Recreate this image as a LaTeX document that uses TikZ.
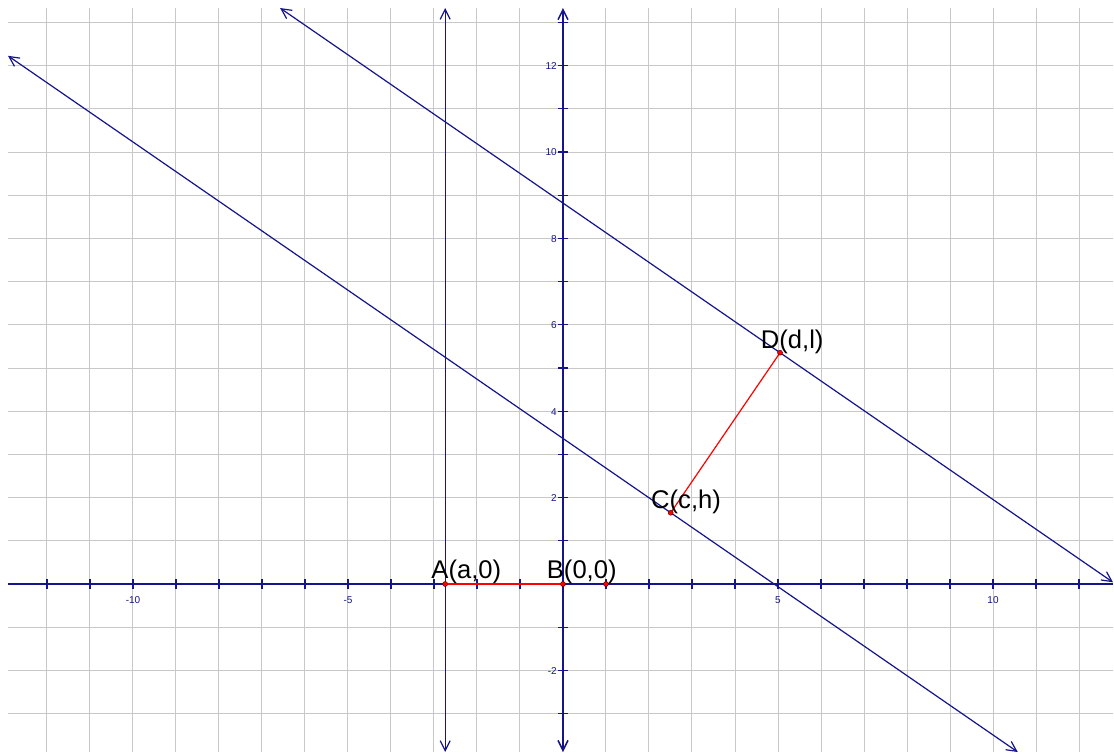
\documentclass[tikz,border=0pt]{standalone}
\usepackage{fontspec}
\setmainfont{Liberation Sans}
\usetikzlibrary{arrows.meta}
\definecolor{navy}{RGB}{20,20,140}
\definecolor{gridgray}{RGB}{200,200,200}
\begin{document}
\begin{tikzpicture}[x=43pt,y=43.2pt,
  gridline/.style={gridgray,line width=1pt},
  axis/.style={navy,line width=1.5pt},
  bothtips/.style={{Straight Barb[length=10pt,width=10pt]}-{Straight Barb[length=10pt,width=10pt]}},
  geoline/.style={navy,line width=1.2pt,bothtips},
  tick/.style={navy,line width=1.2pt},
  seg/.style={red,line width=1.2pt},
  pt/.style={circle,fill=red,draw=black!60!red,line width=0.5pt,inner sep=0pt,minimum size=5pt},
  ptlabel/.style={font=\fontsize{25.6}{28}\selectfont,inner sep=0pt,anchor=base west},
  ticklabel/.style={font=\fontsize{10}{12}\selectfont,text=navy,inner sep=0pt}]
\useasboundingbox (-13.093,-3.912) rectangle (12.814,13.519);
\fill[white] (-13.093,-3.912) rectangle (12.814,13.519);
% grid
\foreach \x in {-12,...,12} \draw[gridline] (\x,-3.889) -- (\x,13.333);
\foreach \y in {-3,...,13} \draw[gridline] (-12.907,\y) -- (12.791,\y);
% axes
\coordinate (xl) at (-12.907,0);
\coordinate (xr) at (12.791,0);
\coordinate (yb) at (0,-3.889);
\coordinate (yt) at (0,13.333);
\draw[axis] (xl) -- (xr);
\draw[axis,bothtips] (yb) -- (yt);
\foreach \x in {-12,...,12} \draw[tick] (\x,0) ++(0,-5pt) -- ++(0,10pt);
\foreach \y in {-3,...,13} \draw[tick] (0,\y) ++(-5pt,0) -- ++(10pt,0);
\foreach \x in {-10,-5,5,10} \node[ticklabel,anchor=base] at (\x,-0.44) {\x};
\foreach \y in {-2,2,4,6,8,10,12} \node[ticklabel,anchor=base east] at (-0.14,{\y-0.09}) {\y};
% points
\coordinate (A) at (-2.74,0);
\coordinate (B) at (0,0);
\coordinate (E) at (1,0);
\coordinate (C) at (2.505,1.650);
\coordinate (D) at (5.047,5.354);
% lines
\coordinate (At) at (-2.74,13.333);
\coordinate (Ab) at (-2.74,-3.889);
\coordinate (L1) at (-12.907,12.227);
\coordinate (L2) at (10.576,-3.889);
\coordinate (U1) at (-6.579,13.333);
\coordinate (U2) at (12.791,0.040);
\draw[geoline] (Ab) -- (At);
\draw[geoline] (L1) -- (L2);
\draw[geoline] (U1) -- (U2);
% segments
\draw[seg] (A) -- (B);
\draw[seg] (C) -- (D);
% point markers
\node[pt] (pA) at (A) {};
\node[pt] (pB) at (B) {};
\node[pt] (pE) at (E) {};
\node[pt] (pC) at (C) {};
\node[pt] (pD) at (D) {};
% labels
\node[ptlabel] (lA) at (-3.063,0.139) {A(a,0)};
\node[ptlabel] (lB) at (-0.379,0.139) {B(0,0)};
\node[ptlabel] (lC) at (2.047,1.752) {C(c,h)};
\node[ptlabel] (lD) at (4.598,5.456) {D(d,l)};
\end{tikzpicture}
\end{document}
